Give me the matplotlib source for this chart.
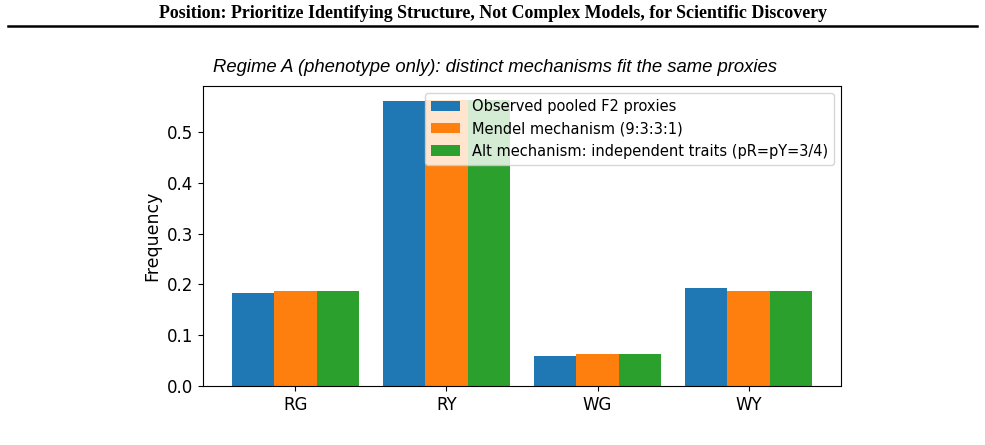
import matplotlib
matplotlib.use("Agg")
import matplotlib.pyplot as plt
import numpy as np

categories = ["RG", "RY", "WG", "WY"]
observed = [0.184, 0.562, 0.059, 0.193]
mendel = [3/16, 9/16, 1/16, 3/16]
alt = [3/16, 9/16, 1/16, 3/16]
series_labels = ["Observed pooled F2 proxies", "Mendel mechanism (9:3:3:1)",
                 "Alt mechanism: independent traits (pR=pY=3/4)"]

fig = plt.figure(figsize=(9.85, 4.45), dpi=100)
ax = fig.add_axes([203/985, 1-386/445, (841-203)/985, (386-86)/445])

x = np.arange(len(categories))
w = 0.28
colors = ["#1f77b4", "#ff7f0e", "#2ca02c"]
for i, (vals, lab) in enumerate(zip([observed, mendel, alt], series_labels)):
    ax.bar(x + (i-1)*w, vals, w, label=lab, color=colors[i])

ax.set_xticks(x)
ax.set_xticklabels(categories, fontsize=12)
ax.tick_params(axis='y', labelsize=12)
ax.set_ylabel("Frequency", fontsize=12.5)
ax.legend(loc="upper right", fontsize=10.5)

fig.text(493/985, 1-13/445, "Position: Prioritize Identifying Structure, Not Complex Models, for Scientific Discovery",
         ha="center", va="center", fontsize=12.9, fontweight="bold", family="Liberation Serif")
fig.add_artist(plt.Line2D([8/985, 977/985], [1-26/445, 1-26/445], color="black", lw=1.8))
fig.text(495/985, 1-67/445, "Regime A (phenotype only): distinct mechanisms fit the same proxies",
         ha="center", va="center", fontsize=13.3, style="italic", family="Liberation Sans")

fig.savefig("out.png", dpi=100)
